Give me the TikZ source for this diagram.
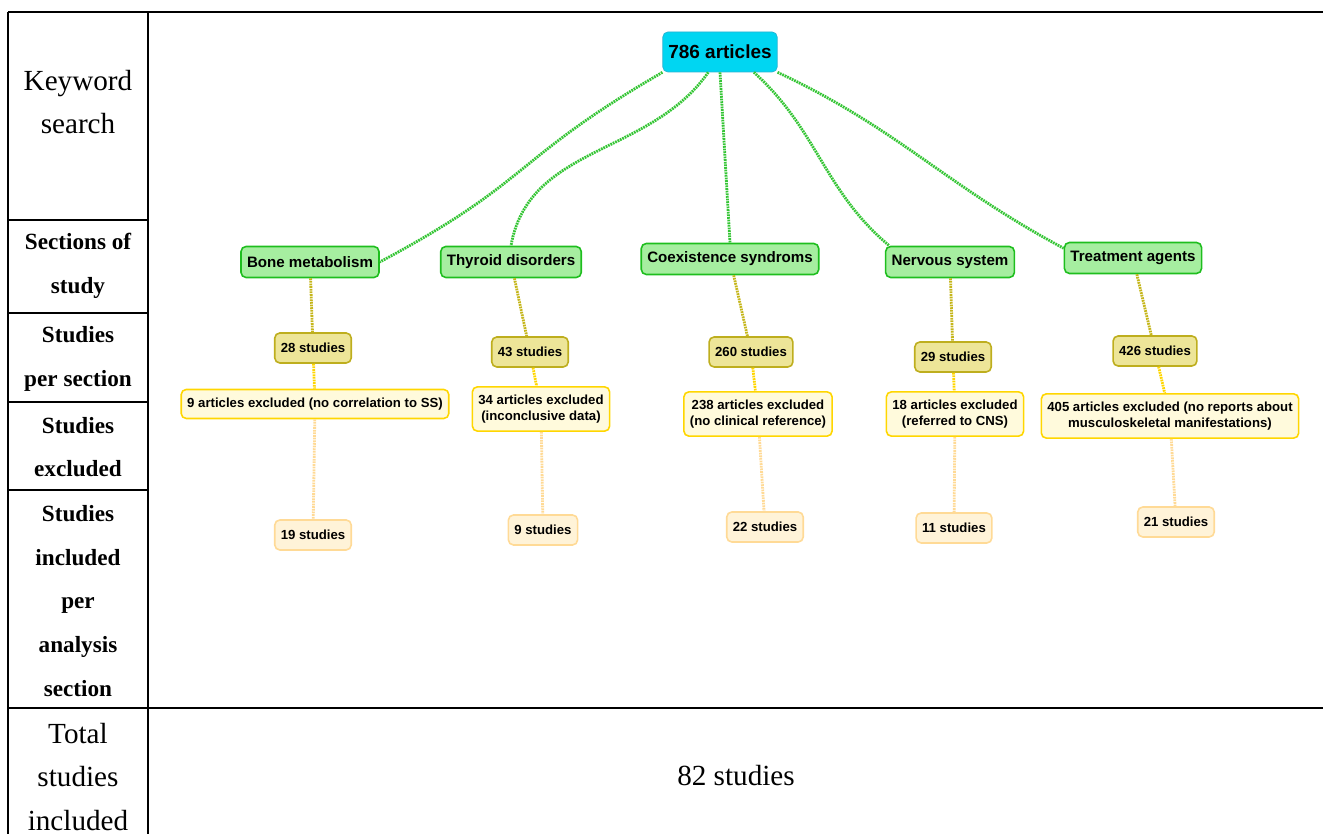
\documentclass[tikz,border=0pt]{standalone}
\usepackage{fontspec}
\setmainfont{Liberation Serif}
\newfontfamily\boxfont{Liberation Sans}

\definecolor{rootfill}{RGB}{0,214,242}
\definecolor{rootline}{RGB}{40,178,208}
\definecolor{secfill}{RGB}{166,238,160}
\definecolor{secline}{RGB}{30,190,30}
\definecolor{cntfill}{RGB}{237,229,152}
\definecolor{cntline}{RGB}{190,174,30}
\definecolor{exclfill}{RGB}{255,250,220}
\definecolor{exclline}{RGB}{255,214,0}
\definecolor{inclfill}{RGB}{255,243,216}
\definecolor{inclline}{RGB}{255,218,150}

\begin{document}
\begin{tikzpicture}[x=0.02cm, y=0.02cm]
            \tikzstyle{rootbox} = [rectangle, draw=rootline, fill=rootfill, rounded corners=0.1cm, minimum height=0.8cm, inner xsep=0.11cm, font=\boxfont\bfseries\fontsize{10.8}{13}\selectfont]
            \tikzstyle{section} = [rectangle, draw=secline, line width=0.9pt, fill=secfill, rounded corners=0.1cm, minimum height=0.62cm, inner xsep=0.12cm, font=\boxfont\bfseries\fontsize{8.6}{10}\selectfont]
            \tikzstyle{count} = [rectangle, draw=cntline, line width=0.9pt, fill=cntfill, rounded corners=0.1cm, minimum height=0.6cm, inner xsep=0.12cm, font=\boxfont\bfseries\fontsize{7.5}{9.1}\selectfont]
            \tikzstyle{excluded} = [rectangle, draw=exclline, line width=0.9pt, fill=exclfill, rounded corners=0.1cm, minimum height=0.58cm, inner xsep=0.12cm, inner ysep=0.16cm, align=center, font=\boxfont\bfseries\fontsize{7.5}{9.1}\selectfont]
            \tikzstyle{included} = [rectangle, draw=inclline, line width=0.9pt, fill=inclfill, rounded corners=0.1cm, minimum height=0.6cm, inner xsep=0.12cm, font=\boxfont\bfseries\fontsize{7.5}{9.1}\selectfont]
            \tikzstyle{rowhead} = [align=center, font=\fontsize{16.6}{24.7}\selectfont]
            \tikzstyle{rowbold} = [align=center, font=\bfseries\fontsize{13.2}{24.9}\selectfont]
            \tikzstyle{rule} = [line width=1.1pt]
            \tikzstyle{greenlink} = [line width=1.6pt, color=secline!90, dash pattern=on 1pt off 0.5pt]
            \tikzstyle{olivelink} = [line width=1.6pt, color=cntline!90!yellow, dash pattern=on 1pt off 0.5pt]
            \tikzstyle{goldlink} = [line width=1.6pt, color=exclline, dash pattern=on 1pt off 0.5pt]
            \tikzstyle{palelink} = [line width=1.6pt, color=inclline, dash pattern=on 1pt off 0.5pt]

            \useasboundingbox (0,0) rectangle (1323,834);

            % table
            \draw [rule, line width=1.5pt] (8,822) -- (1323,822);
            \draw [rule] (8,822) -- (8,0);
            \draw [rule] (148,822) -- (148,0);
            \draw [rule] (8,614) -- (148,614);
            \draw [rule] (8,521) -- (148,521);
            \draw [rule] (8,432) -- (148,432);
            \draw [rule] (8,344) -- (148,344);
            \draw [rule] (8,126) -- (1323,126);

            \node (keyword) [rowhead] at (78,732) {Keyword\\search};
            \node (sections) [rowbold] at (78,568) {Sections of\\study};
            \node (persection) [rowbold] at (78,475) {Studies\\per section};
            \node (excludedrow) [rowbold] at (78,387) {Studies\\excluded};
            \node (includedrow) [rowbold] at (78,233) {Studies\\included\\per\\analysis\\section};
            \node (totalrow) [rowhead] at (78,57) {Total\\studies\\included};
            \node (total) [rowhead] at (736,58) {82 studies};

            % mind map
            \node (root) [rootbox] at (720,782) {786 articles};

            \node (bone) [section] at (310,572) {Bone metabolism};
            \node (thyroid) [section] at (511,572) {Thyroid disorders};
            \node (coex) [section] at (730,575) {Coexistence syndroms};
            \node (nervous) [section] at (950,572) {Nervous system};
            \node (treat) [section] at (1133,576) {Treatment agents};

            \node (bonecnt) [count] at (313,486) {28 studies};
            \node (thyroidcnt) [count] at (530,482) {43 studies};
            \node (coexcnt) [count] at (751,482) {260 studies};
            \node (nervouscnt) [count] at (953,477) {29 studies};
            \node (treatcnt) [count] at (1155,483) {426 studies};

            \node (boneexcl) [excluded] at (315,430) {9 articles excluded (no correlation to SS)};
            \node (thyroidexcl) [excluded] at (541,425) {34 articles excluded\\(inconclusive data)};
            \node (coexexcl) [excluded] at (758,420) {238 articles excluded\\(no clinical reference)};
            \node (nervousexcl) [excluded] at (955,420) {18 articles excluded\\(referred to CNS)};
            \node (treatexcl) [excluded] at (1170,418) {405 articles excluded (no reports about\\musculoskeletal manifestations)};

            \node (boneincl) [included] at (313,299) {19 studies};
            \node (thyroidincl) [included] at (543,304) {9 studies};
            \node (coexincl) [included] at (765,307) {22 studies};
            \node (nervousincl) [included] at (954,306) {11 studies};
            \node (treatincl) [included] at (1176,312) {21 studies};

            \draw [greenlink] (root.south west) to[out=210, in=28, looseness=1.3] (bone.east);
            \draw [greenlink] (root.-120) to[out=235, in=80] (thyroid.north);
            \draw [greenlink] (root.south) -- (coex.north);
            \draw [greenlink] (root.-31) to[out=-42, in=140] (nervous.165);
            \draw [greenlink] (root.south east) to[out=-25, in=152] (treat.172);

            \draw [olivelink] (bone) -- (bonecnt);
            \draw [olivelink] (thyroid) -- (thyroidcnt);
            \draw [olivelink] (coex) -- (coexcnt);
            \draw [olivelink] (nervous) -- (nervouscnt);
            \draw [olivelink] (treat) -- (treatcnt);

            \draw [goldlink] (bonecnt) -- (boneexcl);
            \draw [goldlink] (thyroidcnt) -- (thyroidexcl);
            \draw [goldlink] (coexcnt) -- (coexexcl);
            \draw [goldlink] (nervouscnt) -- (nervousexcl);
            \draw [goldlink] (treatcnt) -- (treatexcl);

            \draw [palelink] (boneexcl) -- (boneincl);
            \draw [palelink] (thyroidexcl) -- (thyroidincl);
            \draw [palelink] (coexexcl) -- (coexincl);
            \draw [palelink] (nervousexcl) -- (nervousincl);
            \draw [palelink] (treatexcl) -- (treatincl);
        \end{tikzpicture}
\end{document}
